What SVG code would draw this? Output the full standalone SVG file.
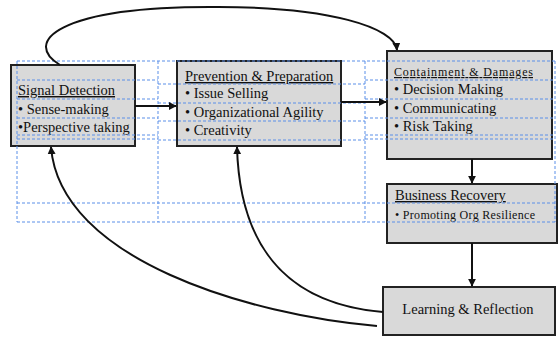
<svg xmlns="http://www.w3.org/2000/svg" width="558" height="337" viewBox="0 0 558 337">
<style>
.box{fill:#d9d9d9;stroke:#222;stroke-width:2}
.t{font-family:"Liberation Serif","Times New Roman",serif;font-size:14.5px;fill:#111}
.u{text-decoration:underline}
.s{font-size:12px}
.grid line{stroke:#5b8fe8;stroke-width:1;stroke-dasharray:3 2}
.c{fill:none;stroke:#111;stroke-width:2}
</style>
<defs>
<marker id="ah" viewBox="0 0 10 10" refX="9" refY="5" markerWidth="4" markerHeight="4" markerUnits="strokeWidth" orient="auto">
<path d="M0,0 L10,5 L0,10 z" fill="#111"/>
</marker>
</defs>
<rect width="558" height="337" fill="#fff"/>
<g id="signal-detection">
<rect class="box" x="11" y="65" width="124" height="81"/>
<text class="t u" x="18" y="95">Signal Detection</text>
<text class="t" x="18" y="114">• Sense-making</text>
<text class="t" x="18" y="132">•Perspective taking</text>
</g>
<g id="prevention-preparation">
<rect class="box" x="177" y="61" width="164" height="85"/>
<text class="t u" x="185" y="81">Prevention &amp; Preparation</text>
<text class="t" x="185" y="98">• Issue Selling</text>
<text class="t" x="185" y="117">• Organizational Agility</text>
<text class="t" x="185" y="135">• Creativity</text>
</g>
<g id="containment-damages">
<rect class="box" x="387" y="51" width="165" height="108"/>
<text class="t u s" x="394" y="76" textLength="139" lengthAdjust="spacing">Containment &amp; Damages</text>
<text class="t" x="394" y="94">• Decision Making</text>
<text class="t" x="394" y="113">• Communicating</text>
<text class="t" x="394" y="131">• Risk Taking</text>
</g>
<g id="business-recovery">
<rect class="box" x="387" y="184" width="170" height="59"/>
<text class="t u" x="395" y="200">Business Recovery</text>
<text class="t s" x="395" y="219" textLength="140" lengthAdjust="spacing">• Promoting  Org  Resilience</text>
</g>
<g id="learning-reflection">
<rect class="box" x="383" y="287" width="172" height="48"/>
<text class="t" x="468" y="314" text-anchor="middle">Learning &amp; Reflection</text>
</g>
<g class="grid" id="guides">
<line x1="17" y1="61" x2="555" y2="61"/>
<line x1="17" y1="203" x2="555" y2="203"/>
<line x1="17" y1="222" x2="555" y2="222"/>
<line x1="17" y1="61" x2="17" y2="222"/>
<line x1="158" y1="61" x2="158" y2="222"/>
<line x1="365" y1="61" x2="365" y2="222"/>
<line x1="555" y1="61" x2="555" y2="222"/>
<line x1="17" y1="80" x2="158" y2="80"/>
<line x1="17" y1="99" x2="158" y2="99"/>
<line x1="17" y1="118" x2="158" y2="118"/>
<line x1="17" y1="135" x2="158" y2="135"/>
<line x1="17" y1="139" x2="158" y2="139"/>
<line x1="158" y1="84" x2="365" y2="84"/>
<line x1="158" y1="103" x2="365" y2="103"/>
<line x1="158" y1="121" x2="365" y2="121"/>
<line x1="158" y1="140" x2="365" y2="140"/>
<line x1="365" y1="80" x2="555" y2="80"/>
<line x1="365" y1="99" x2="555" y2="99"/>
<line x1="365" y1="118" x2="555" y2="118"/>
<line x1="365" y1="135" x2="555" y2="135"/>
<line x1="365" y1="139" x2="555" y2="139"/>
</g>
<g id="connectors">
<line class="c" x1="135" y1="106" x2="176" y2="106" marker-end="url(#ah)"/>
<line class="c" x1="341" y1="102" x2="386" y2="102" marker-end="url(#ah)"/>
<line class="c" x1="472" y1="159" x2="472" y2="183" marker-end="url(#ah)"/>
<line class="c" x1="472" y1="243" x2="472" y2="286" marker-end="url(#ah)"/>
<path class="c" d="M60,65 C22,42 58,7 210,7 C330,6 395,28 397,50" marker-end="url(#ah)"/>
<path class="c" d="M377,326 C250,315 60,260 51,147" marker-end="url(#ah)"/>
<path class="c" d="M383,312 C300,305 240,260 237,147" marker-end="url(#ah)"/>
</g>
</svg>
